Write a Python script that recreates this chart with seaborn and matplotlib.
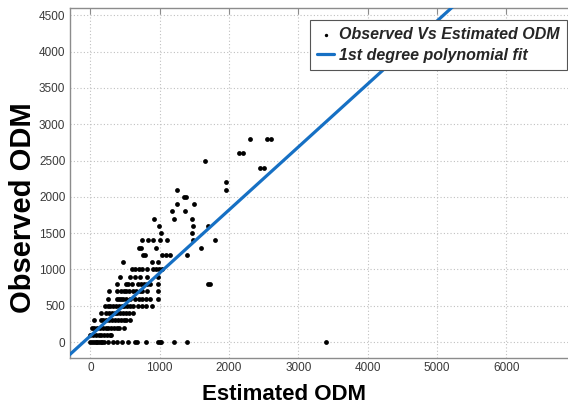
import numpy as np
import pandas as pd
import matplotlib
matplotlib.use("Agg")
import matplotlib.pyplot as plt
import seaborn as sns

# observed ODM levels (one row of points per level) and estimated ODM values on each row
estimated_odm = [
    # observed 0
    0, 25, 50, 75, 100, 125, 150, 175, 200, 260, 320, 390, 450, 550, 640, 680, 800, 980, 1000, 1020, 1200, 1400, 3400,
    # observed 100
    0, 40, 80, 120, 160, 200, 240, 280, 300,
    # observed 200
    20, 60, 100, 140, 180, 220, 260, 300, 340, 380, 420, 480,
    # observed 300
    60, 150, 190, 230, 270, 310, 350, 400, 440, 480, 520, 570,
    # observed 400
    160, 230, 270, 310, 350, 390, 430, 470, 520, 560, 620,
    # observed 500
    210, 250, 290, 330, 370, 410, 450, 490, 530, 570, 610, 690, 740, 810, 890,
    # observed 600
    250, 380, 410, 440, 470, 520, 570, 640, 700, 740, 810, 860, 980,
    # observed 700
    270, 390, 440, 490, 520, 560, 620, 660, 710, 740, 820, 980,
    # observed 800
    380, 510, 550, 600, 690, 730, 770, 820, 860, 980, 1700, 1730,
    # observed 900
    430, 570, 650, 720, 820, 980,
    # observed 1000
    600, 650, 700, 740, 820, 900, 950, 990, 1030,
    # observed 1100
    470, 890, 970,
    # observed 1200
    760, 790, 1030, 1090, 1150, 1390,
    # observed 1300
    700, 730, 950, 1600,
    # observed 1400
    750, 830, 900, 1000, 1100, 1480, 1800,
    # observed 1500
    1020, 1460,
    # observed 1600
    990, 1475, 1700,
    # observed 1700
    920, 1200, 1470,
    # observed 1800
    1180, 1360,
    # observed 1900
    1250, 1500,
    # observed 2000
    1350, 1380,
    # observed 2100
    1250, 1950,
    # observed 2200
    1950,
    # observed 2400
    2450, 2500,
    # observed 2500
    1650,
    # observed 2600
    2150, 2200,
    # observed 2800
    2300, 2550, 2600,
]

row_levels = [0, 100, 200, 300, 400, 500, 600, 700, 800, 900, 1000, 1100, 1200,
              1300, 1400, 1500, 1600, 1700, 1800, 1900, 2000, 2100, 2200, 2400,
              2500, 2600, 2800]
row_counts = [23, 9, 12, 12, 11, 15, 13, 12, 12, 6, 9, 3, 6,
              4, 7, 2, 3, 3, 2, 2, 2, 2, 1, 2,
              1, 2, 3]

# 1st degree polynomial fit (slope, intercept)
fit_coef = [0.867, 85]

x_ticks = [0, 1000, 2000, 3000, 4000, 5000, 6000]
y_ticks = [0, 500, 1000, 1500, 2000, 2500, 3000, 3500, 4000, 4500]
x_range = (-300, 6890)
y_range = (-215, 4600)

observed_odm = np.repeat(row_levels, row_counts)
df = pd.DataFrame({"Estimated ODM": estimated_odm, "Observed ODM": observed_odm})

fit_x = np.array(x_range, dtype=float)
fit_df = pd.DataFrame({"x": fit_x, "y": np.polyval(fit_coef, fit_x)})

sns.set_style("white")
plt.rcParams['font.family'] = ['Liberation Sans', 'DejaVu Sans']

fig = plt.figure(figsize=(5.68, 4.04), dpi=100)
ax = fig.add_axes([0.1224, 0.1146, 0.8776, 0.8656])

sns.scatterplot(data=df, x="Estimated ODM", y="Observed ODM", ax=ax,
                color="black", s=12, linewidth=0, marker="o",
                label="Observed Vs Estimated ODM", zorder=3)
sns.lineplot(data=fit_df, x="x", y="y", ax=ax, color="#1670c4",
             linewidth=2.3, label="1st degree polynomial fit", zorder=4)

ax.set_xlim(*x_range)
ax.set_ylim(*y_range)
ax.set_xticks(x_ticks)
ax.set_yticks(y_ticks)
ax.grid(True, linestyle=(0, (1, 2)), color="#c0c0c0", linewidth=0.8)
ax.set_axisbelow(True)

for side in ["left", "bottom", "top"]:
    ax.spines[side].set_color("#8c8c8c")
    ax.spines[side].set_linewidth(1.0)
ax.spines["right"].set_visible(False)

ax.tick_params(axis="both", direction="in", length=4, width=0.8, color="#8c8c8c",
               labelsize=8.5, labelcolor="#3a3a3a", top=True, pad=3)

ax.set_xlabel("Estimated ODM", fontsize=16, fontweight="bold", color="black")
ax.set_ylabel("Observed ODM", fontsize=21, fontweight="bold", color="black")
ax.xaxis.set_label_coords(0.43, -0.075)
ax.yaxis.set_label_coords(-0.066, 0.43)

leg = ax.legend(loc="upper right", bbox_to_anchor=(0.998, 0.966), frameon=True,
                fancybox=False, edgecolor="#555555", framealpha=1,
                prop={"style": "italic", "weight": "bold", "size": 11.5},
                handlelength=1.1, handletextpad=0.3, labelspacing=0.35,
                borderpad=0.45, borderaxespad=0, markerscale=0.7)
leg.get_frame().set_linewidth(0.8)

fig.savefig("out.png", dpi=100)
